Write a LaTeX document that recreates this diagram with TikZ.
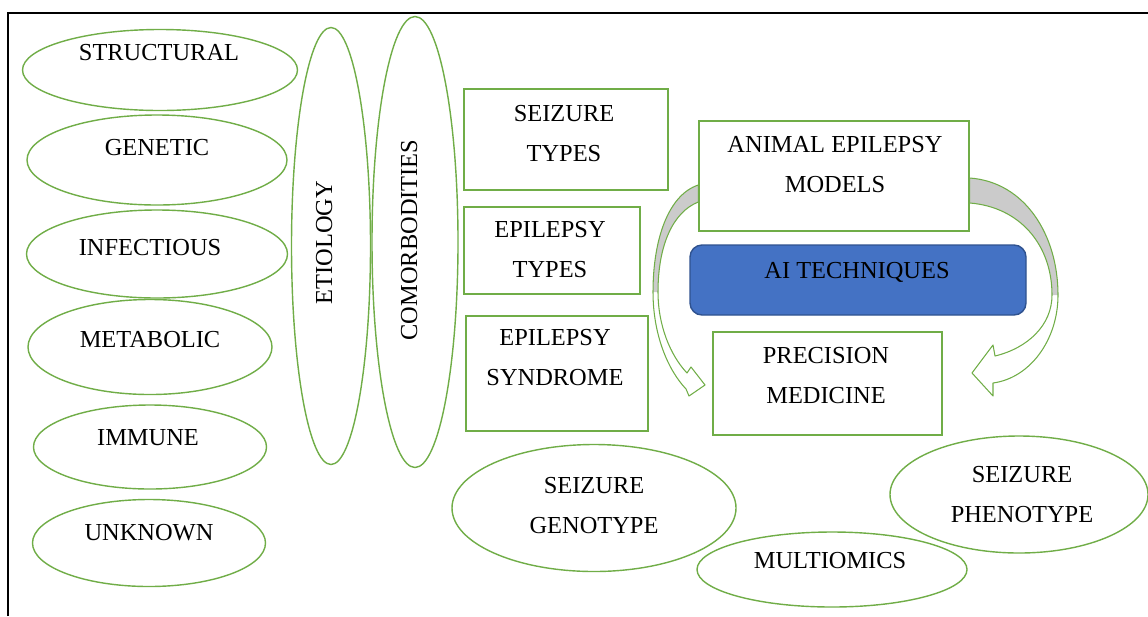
\documentclass[tikz,border=0pt]{standalone}
\usepackage{fontspec}
\setmainfont{Liberation Serif}
\usetikzlibrary{shapes.geometric}
\definecolor{shapegreen}{HTML}{70AD47}
\definecolor{aiblue}{HTML}{4472C4}
\definecolor{aiborder}{HTML}{2F528F}
\definecolor{bandgray}{HTML}{CBCBCB}
\tikzset{
  oval/.style 2 args={ellipse, draw=shapegreen, line width=0.8pt, fill=white, inner sep=0pt,
    minimum width=#1*0.02cm, minimum height=#2*0.02cm},
  gbox/.style 2 args={rectangle, draw=shapegreen, line width=0.8pt, fill=white, inner sep=0pt,
    minimum width=#1*0.02cm, minimum height=#2*0.02cm},
  lbl/.style={font=\fontsize{13.9}{22.7}\selectfont, align=center, anchor=base, inner sep=0pt},
  bandline/.style={draw=shapegreen, line width=0.6pt, line join=round}
}
\begin{document}
\begin{tikzpicture}[x=0.02cm, y=-0.02cm]
    \useasboundingbox (0,0) rectangle (1148,616);
    % Frame
    \draw[line width=1.7pt] (8,616) -- (8,13) -- (1148,13);

    % Etiology ovals
    \node[oval={275}{81}] (struct) at (160,70) {};
    \node[oval={260}{90}] (gen) at (157,160) {};
    \node[oval={261}{88}] (inf) at (157,254) {};
    \node[oval={244}{95}] (meta) at (150,347) {};
    \node[oval={233}{84}] (imm) at (150,447) {};
    \node[oval={233}{87}] (unk) at (149,543) {};
    \node[lbl] (tstruct) at (159,60) {STRUCTURAL};
    \node[lbl] (tgen) at (157,155) {GENETIC};
    \node[lbl] (tinf) at (150,255) {INFECTIOUS};
    \node[lbl] (tmeta) at (150,347) {METABOLIC};
    \node[lbl] (timm) at (148,445) {IMMUNE};
    \node[lbl] (tunk) at (149,540) {UNKNOWN};

    % Tall ovals
    \node[oval={79}{437}] (etio) at (331,246) {};
    \node[oval={86}{451}] (como) at (415,242) {};
    \node[lbl, rotate=90] (tetio) at (332,242.5) {ETIOLOGY};
    \node[lbl, rotate=90] (tcomo) at (417,240) {COMORBODITIES};

    % Classification boxes
    \node[gbox={204}{101}] (stypes) at (566,139.5) {};
    \node[gbox={176}{87}] (etypes) at (552,250.5) {};
    \node[gbox={182}{115}] (esyn) at (557,373.5) {};
    \node[lbl] (tstypes) at (564,161) {SEIZURE\\TYPES};
    \node[lbl] (tetypes) at (550,277) {EPILEPSY\\TYPES};
    \node[lbl] (tesyn) at (555,385) {EPILEPSY\\SYNDROME};

    % Models, AI, precision medicine
    \node[gbox={270}{110}] (models) at (834,176) {};
    \node[draw=aiborder, fill=aiblue, line width=0.8pt, rounded corners=0.24cm,
      minimum width=336*0.02cm, minimum height=70*0.02cm] (ai) at (858,280) {};
    \node[gbox={229}{103}] (precis) at (827.5,383.5) {};
    \node[lbl] (tmodels) at (835,192) {ANIMAL EPILEPSY\\MODELS};
    \node[lbl] (tai) at (857,278) {AI TECHNIQUES};
    \node[lbl] (tprecis) at (826,403) {PRECISION\\MEDICINE};

    % Curved block arrows
    \coordinate (lt1) at ([yshift=-0.18cm]models.west);
    \coordinate (lt2) at ([yshift=-0.52cm]models.west);
    \fill[bandgray] (lt1) .. controls (668,195) and (653,240) .. (653,292) -- (658,292)
      .. controls (658,245) and (673,212) .. (lt2) -- cycle;
    \draw[bandline] (lt1) .. controls (668,195) and (653,240) .. (653,292)
      .. controls (653,335) and (668,370) .. (686,389) -- (689,396) -- (705,385) -- (691,367) -- (687,373)
      .. controls (670,355) and (658,325) .. (658,292)
      .. controls (658,245) and (673,212) .. (lt2) -- cycle;
    \coordinate (rt1) at ([yshift=-0.04cm]models.east);
    \coordinate (rt2) at ([yshift=-0.54cm]models.east);
    \fill[bandgray] (rt1) .. controls (1025,182) and (1058,235) .. (1058,295) -- (1052,295)
      .. controls (1052,245) and (1020,207) .. (rt2) -- cycle;
    \draw[bandline] (rt1) .. controls (1025,182) and (1058,235) .. (1058,295)
      .. controls (1058,340) and (1030,378) .. (993,383) -- (993,396) -- (972,373) -- (993,345) -- (995,356)
      .. controls (1028,348) and (1052,325) .. (1052,295)
      .. controls (1052,245) and (1020,207) .. (rt2) -- cycle;

    % Bottom ovals
    \node[oval={284}{127}] (geno) at (594,508) {};
    \node[oval={270}{75}] (multi) at (832,569.5) {};
    \node[oval={258}{117}] (pheno) at (1019,494.5) {};
    \node[lbl] (tgeno) at (594,533) {SEIZURE\\GENOTYPE};
    \node[lbl] (tmulti) at (830,568) {MULTIOMICS};
    \node[lbl] (tpheno) at (1022,522) {SEIZURE\\PHENOTYPE};
\end{tikzpicture}
\end{document}
